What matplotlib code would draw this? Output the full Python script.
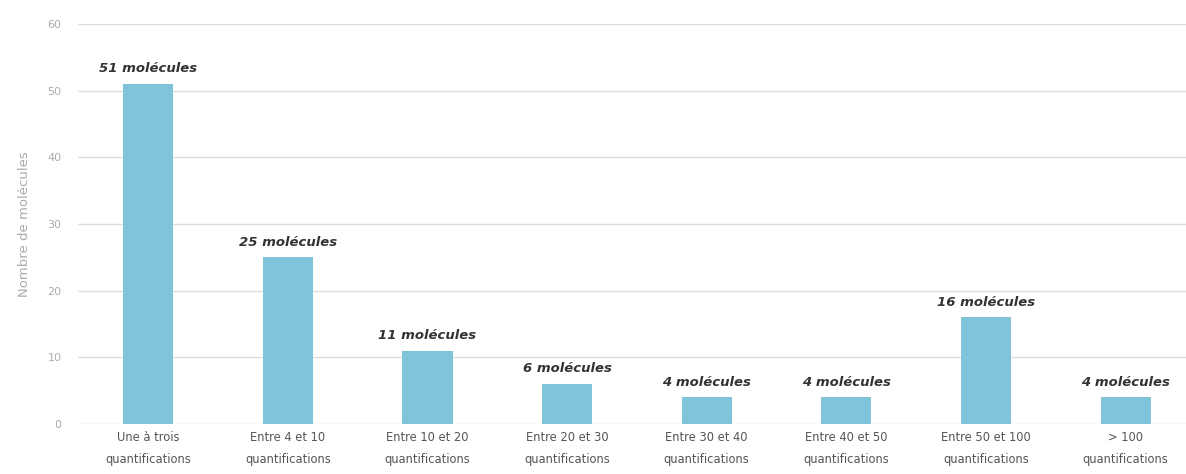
import matplotlib
matplotlib.use("Agg")
import matplotlib.pyplot as plt

categories = ["Une à trois\nquantifications", "Entre 4 et 10\nquantifications",
              "Entre 10 et 20\nquantifications", "Entre 20 et 30\nquantifications",
              "Entre 30 et 40\nquantifications", "Entre 40 et 50\nquantifications",
              "Entre 50 et 100\nquantifications", "> 100\nquantifications"]
values = [51, 25, 11, 6, 4, 4, 16, 4]
yticks = [0, 10, 20, 30, 40, 50, 60]

plt.rcParams['font.family'] = ['DejaVu Sans']

fig = plt.figure(figsize=(11.86, 4.74), dpi=100)
ax = fig.add_axes([0.066, 0.1055, 0.942, 0.8435])
x = list(range(len(categories)))
ax.bar(x, values, width=0.36, color='#80c4d9', zorder=3)
for xi, v in zip(x, values):
    ax.text(xi, v + 1.3, f"{v} molécules", ha='center', va='bottom',
            fontsize=9.5, fontweight='bold', fontstyle='italic', color='#333333')
ax.set_xlim(-0.5, 7.5)
ax.set_ylim(0, 60)
ax.set_yticks(yticks)
ax.set_yticklabels([str(t) for t in yticks], color='#aaaaaa', fontsize=8)
ax.set_xticks(x)
ax.set_xticklabels(categories, color='#555555', fontsize=8.3, linespacing=1.9)
ax.tick_params(axis='both', length=0)
ax.tick_params(axis='y', pad=12)
ax.tick_params(axis='x', pad=5)
ax.grid(axis='y', color='#dddddd', linewidth=1, zorder=0)
for s in ax.spines.values():
    s.set_visible(False)
ax.set_ylabel("Nombre de molécules", color='#aaaaaa', fontsize=9.5, labelpad=12)
fig.savefig("out.png", dpi=100)
